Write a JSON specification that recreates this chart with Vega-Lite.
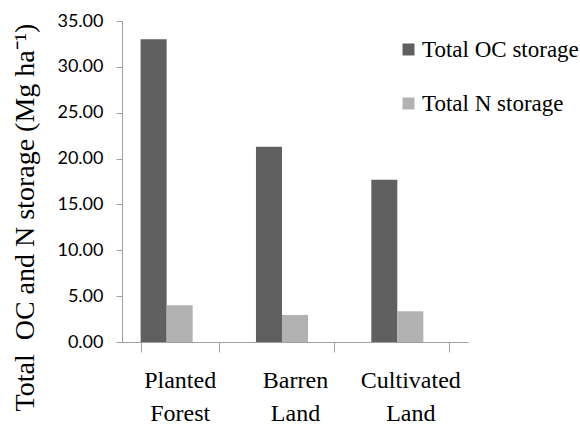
{
  "$schema": "https://vega.github.io/schema/vega-lite/v6.json",
  "width": 346,
  "height": 321,
  "autosize": {"type": "none"},
  "padding": {"left": 122, "top": 21, "right": 112, "bottom": 89},
  "background": "white",
  "data": {
    "values": [
      {"Land": "Planted Forest", "Series": "Total OC storage", "Value": 33.0},
      {"Land": "Planted Forest", "Series": "Total N storage", "Value": 4.0},
      {"Land": "Barren Land", "Series": "Total OC storage", "Value": 21.3},
      {"Land": "Barren Land", "Series": "Total N storage", "Value": 2.95},
      {"Land": "Cultivated Land", "Series": "Total OC storage", "Value": 17.7},
      {"Land": "Cultivated Land", "Series": "Total N storage", "Value": 3.35}
    ]
  },
  "mark": {"type": "bar"},
  "encoding": {
    "x": {
      "field": "Land",
      "type": "nominal",
      "sort": ["Planted Forest", "Barren Land", "Cultivated Land"],
      "scale": {"paddingInner": 0.323, "paddingOuter": 0.1615},
      "axis": {
        "title": null,
        "labelAngle": 0,
        "labelExpr": "split(datum.label, ' ')",
        "labelFont": "Liberation Serif",
        "labelFontSize": 24,
        "labelColor": "black",
        "labelLineHeight": 33,
        "labelPadding": 16,
        "tickBand": "extent",
        "tickSize": 10,
        "tickColor": "#a0a0a0",
        "domainColor": "#a0a0a0",
        "grid": false
      }
    },
    "xOffset": {
      "field": "Series",
      "type": "nominal",
      "scale": {"domain": ["Total OC storage", "Total N storage", "blank"], "paddingInner": 0, "paddingOuter": 0}
    },
    "y": {
      "field": "Value",
      "type": "quantitative",
      "scale": {"domain": [0, 35], "nice": false},
      "axis": {
        "title": "Total\u00a0 OC and N storage (Mg ha⁻¹)",
        "titleFont": "Liberation Serif",
        "titleFontSize": 28,
        "titleFontWeight": "normal",
        "titleColor": "black",
        "titleAngle": -90,
        "titleAlign": "center",
        "titleBaseline": "alphabetic",
        "titleX": -89,
        "titleY": 196,
        "values": [0, 5, 10, 15, 20, 25, 30, 35],
        "format": ".2f",
        "labelFont": "Lato",
        "labelFontSize": 18,
        "labelColor": "black",
        "labelPadding": 13,
        "tickSize": 6,
        "tickColor": "#a0a0a0",
        "domainColor": "#a0a0a0",
        "grid": false
      }
    },
    "color": {
      "field": "Series",
      "type": "nominal",
      "scale": {"domain": ["Total OC storage", "Total N storage"], "range": ["#606060", "#b2b2b2"]},
      "legend": {
        "title": null,
        "orient": "none",
        "legendX": 275,
        "legendY": 17,
        "padding": 0,
        "symbolType": "square",
        "symbolSize": 144,
        "symbolStrokeWidth": 0,
        "symbolOpacity": 1,
        "labelFont": "Liberation Serif",
        "labelFontSize": 23,
        "labelColor": "black",
        "labelOffset": 2,
        "labelLimit": 300,
        "rowPadding": 30
      }
    }
  },
  "config": {
    "view": {"stroke": null}
  }
}
